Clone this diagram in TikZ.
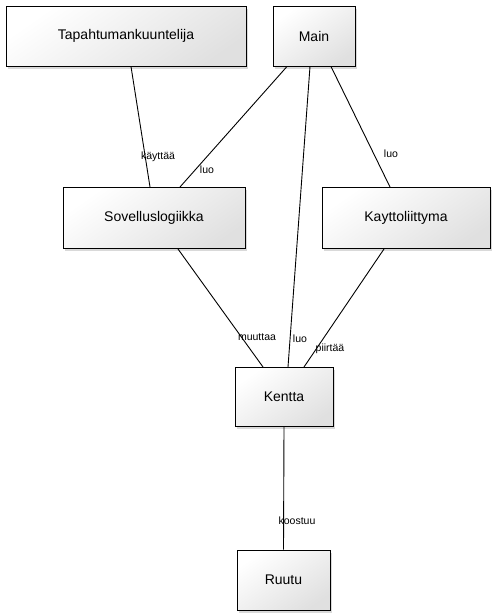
\documentclass[tikz,border=0pt]{standalone}
\usepackage{fontspec}
\setmainfont{Liberation Sans}
\usetikzlibrary{shadows}
\begin{document}
\begin{tikzpicture}[x=1pt,y=-1pt]
    \tikzstyle{luokka}=[draw,line width=1pt,rectangle,inner sep=0pt,
      top color=white,bottom color=black!12,shading angle=35,
      drop shadow={shadow xshift=2pt,shadow yshift=-2.5pt,opacity=0.3},
      font=\fontsize{14}{16}\selectfont];
    \tikzstyle{selite}=[inner sep=1pt,font=\fontsize{10.5}{12}\selectfont];
    \tikzstyle{yhteys}=[line width=0.9pt];
    \useasboundingbox (0,0) rectangle (495,616);
    %\node (name) at (x,y) [luokka,minimum width=..,minimum height=..] {text};
    \node (tap) at (126,36) [luokka,minimum width=240pt,minimum height=60pt] {Tapahtumankuuntelija};
    \node (main) at (314,36) [luokka,minimum width=82pt,minimum height=60pt] {Main};
    \node (sov) at (154,218) [luokka,minimum width=182pt,minimum height=61pt] {Sovelluslogiikka};
    \node (kay) at (406,218) [luokka,minimum width=168pt,minimum height=61pt] {Kayttoliittyma};
    \node (kentta) at (284,397) [luokka,minimum width=98pt,minimum height=59pt] {Kentta};
    \node (ruutu) at (283.5,580) [luokka,minimum width=93pt,minimum height=60pt] {Ruutu};
    \draw[yhteys] ([xshift=5pt]tap.south) -- ([xshift=-4pt]sov.north)
    ([xshift=-27pt]main.south) -- ([xshift=26pt]sov.north)
    ([xshift=-4pt]main.south) -- ([xshift=4pt]kentta.north)
    ([xshift=17pt]main.south) -- ([xshift=-16pt]kay.north)
    ([xshift=24pt]sov.south) -- ([xshift=-21pt]kentta.north)
    ([xshift=-22pt]kay.south) -- ([xshift=20pt]kentta.north)
    (kentta.south) -- (ruutu.north);
    % selitteet
    \node (l1) at (158,157) [selite] {käyttää};
    \node (l2) at (207,170) [selite] {luo};
    \node (l3) at (391,154) [selite] {luo};
    \node (l4) at (257,337) [selite] {muuttaa};
    \node (l5) at (300,339) [selite] {luo};
    \node (l6) at (330,349) [selite] {piirtää};
    \node (l7) at (297,521) [selite] {koostuu};
  \end{tikzpicture}
\end{document}
